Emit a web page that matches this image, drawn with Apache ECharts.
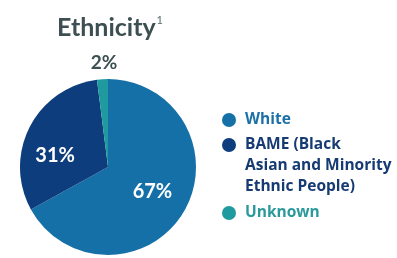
<!DOCTYPE html>
<html>
<head>
<meta charset="utf-8">
<script src="https://cdn.jsdelivr.net/npm/echarts@6/dist/echarts.min.js"></script>
<style>
html,body{margin:0;padding:0;background:#fff;}
#main{width:397px;height:258px;}
</style>
</head>
<body>
<div id="main"></div>
<script>
var names = ['White', 'BAME', 'Unknown'];
var values = [67, 31, 2];
var legendText = ['White', '\n\nBAME (Black\nAsian and Minority\nEthnic People)', 'Unknown'];
var sliceColors = ['#1570a8', '#0d3d7c', '#1f9a9e'];
var legendColors = ['#1b70a8', '#163a72', '#2a999b'];

var myChart = echarts.init(document.getElementById('main'));
var font = 'Lato';

// label look per slice
var labelCfg = [
	{color:'#fff', fontSize:20},
	{color:'#fff', fontSize:20},
	{color:'#3d4f52', fontSize:19}
];
// nudges from the default inside spot
var labelShift = [[4,1],[-11,10],[-1,-57]];

var data = [];
for (var i = 0; i < names.length; i++) {
	data.push({
		name: names[i],
		value: values[i],
		itemStyle: {color: sliceColors[i]},
		label: labelCfg[i]
	});
}

var legendTops = [109.5, 92.5, 202.5];
var legends = [];
for (var j = 0; j < names.length; j++) {
	legends.push({
		data: [names[j]],
		left: 222,
		top: legendTops[j],
		padding: 0,
		orient: 'vertical',
		icon: 'circle',
		itemWidth: 18,
		itemHeight: 14,
		selectedMode: false,
		formatter: (function (t) { return function () { return t; }; })(legendText[j]),
		textStyle: {
			color: legendColors[j],
			fontFamily: 'Open Sans',
			fontWeight: 'bold',
			fontSize: 15.5,
			lineHeight: 21,
			padding: [0,0,0,2]
		}
	});
}

option = {
	animation: false,
	title: {
		text: 'Ethnicity{sup|1}',
		left: 52,
		top: 10,
		textStyle: {
			color: '#3d4f52',
			fontFamily: font,
			fontWeight: 'bold',
			fontSize: 25,
			rich: {
				sup: {fontSize: 11, fontWeight: 'normal', color: '#5a6a6c', verticalAlign: 'top', padding:[0,0,12,1]}
			}
		}
	},
	legend: legends,
	series: [{
		type: 'pie',
		center: [108, 167],
		radius: [0, 88],
		startAngle: 90,
		clockwise: true,
		avoidLabelOverlap: false,
		label: {
			show: true,
			position: 'inside',
			formatter: '{c}%',
			fontFamily: font,
			fontWeight: 'bold'
		},
		labelLine: {show: false},
		labelLayout: function (params) {
			var s = labelShift[params.dataIndex];
			return {dx: s[0], dy: s[1]};
		},
		emphasis: {disabled: true},
		data: data
	}]
};
myChart.setOption(option);
</script>
</body>
</html>
